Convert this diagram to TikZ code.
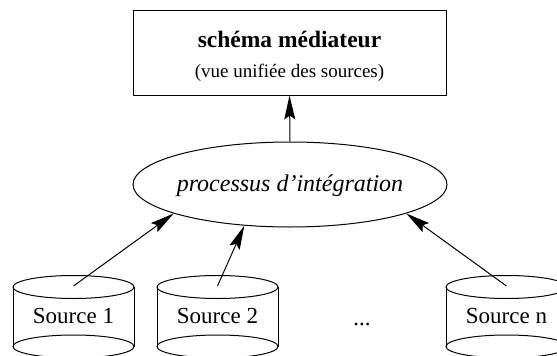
\documentclass[tikz,border=0pt]{standalone}
\usepackage{fontspec}
\setmainfont{Liberation Serif}
\usetikzlibrary{shapes.geometric,arrows.meta}

\begin{document}
\begin{tikzpicture}[x=1pt,y=-1pt,line width=1pt,
		fleche/.style={-{Stealth[length=24pt,width=11pt,inset=4pt]}},
		srctext/.style={anchor=base,font=\fontsize{23}{26}\selectfont}]
		\useasboundingbox (0,0) rectangle (557,356);
		\clip (0,0) rectangle (557,356);
		% schema mediateur
		\node[draw,minimum width=313pt,minimum height=85pt] (mediateur) at (289.5,52.5) {};
		\node[anchor=base,font=\fontsize{23.5}{26}\selectfont\bfseries] (titre) at (289.5,47) {schéma médiateur};
		\node[anchor=base,font=\fontsize{19}{22}\selectfont] (soustitre) at (289.5,77) {(vue unifiée des sources)};
		% processus
		\node[draw,ellipse,minimum width=314pt,minimum height=85pt] (integ) at (290,184.5) {};
		\node[anchor=base,font=\fontsize{24}{27}\selectfont\itshape] (integtxt) at (290,191) {processus d'intégration};
		\draw[fleche] (integ.north) -- (mediateur.south);
		% sources (cylindres)
		\foreach \cx/\nom/\txt in {73.5/s1/Source 1, 217.5/s2/Source 2, 506.5/sn/Source n}{
			\draw (\cx,287) ellipse [x radius=60.5, y radius=11.5];
			\draw (\cx,346.5) ellipse [x radius=60.5, y radius=11.5];
			\draw (\cx-60.5,287) -- (\cx-60.5,346.5) (\cx+60.5,287) -- (\cx+60.5,346.5);
			\node[srctext] (\nom) at (\cx,323) {\txt};
			\coordinate (\nom-top) at (\cx,286);
		}
		\node[srctext] (dots) at (362,325) {...};
		\draw[fleche] (s1-top) -- (integ.194);
		\draw[fleche] (s2-top) -- (integ.222);
		\draw[fleche] (sn-top) -- (integ.346.8);
	\end{tikzpicture}
\end{document}
